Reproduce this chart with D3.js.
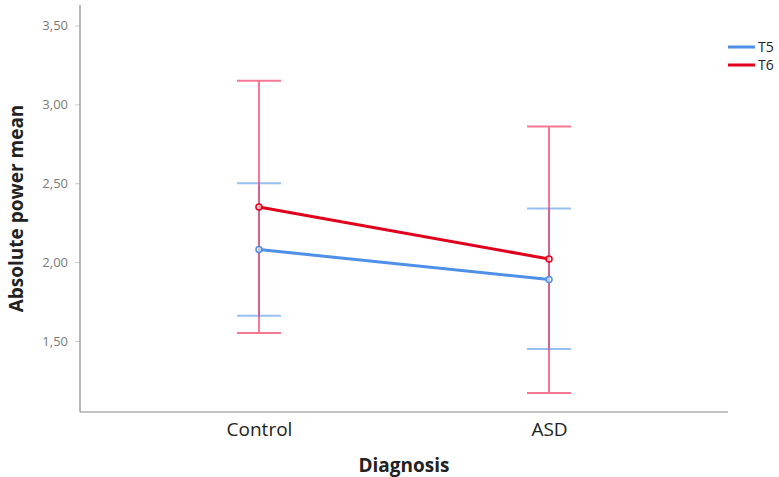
<!DOCTYPE html>
<html><head><meta charset="utf-8">
<script src="https://cdn.jsdelivr.net/npm/d3@7"></script>
<style>
html,body{margin:0;padding:0;background:#fff;}
svg{display:block;font-family:"Open Sans","Liberation Sans",Arial,sans-serif;}
</style></head>
<body>
<svg id="chart" width="779" height="477"></svg>
<script>
const categories = ["Control", "ASD"];
const seriesNames = ["T5", "T6"];
const meansT5 = [2.08, 1.89];
const lowerT5 = [1.66, 1.45];
const upperT5 = [2.50, 2.34];
const meansT6 = [2.35, 2.02];
const lowerT6 = [1.55, 1.17];
const upperT6 = [3.15, 2.86];
const yTicks = [1.5, 2.0, 2.5, 3.0, 3.5];

const series = [
  {name: "T5", means: meansT5, lower: lowerT5, upper: upperT5, color: "#4e90e8", errColor: "#7fb0f0", errOpacity: 0.8},
  {name: "T6", means: meansT6, lower: lowerT6, upper: upperT6, color: "#e0001c", errColor: "#f0305a", errOpacity: 0.65}
];

const svg = d3.select("#chart");
const pLeft = 80, pRight = 728, pTop = 5, pBottom = 412;

const x = d3.scalePoint().domain(categories).range([pLeft, pRight]).padding(0.617);
const y = d3.scaleLinear().domain([1.05, 3.63]).range([pBottom, pTop]);

// Y axis
const yAxis = d3.axisLeft(y).tickValues(yTicks).tickSize(5).tickPadding(7)
  .tickFormat(d => d3.format(".2f")(d).replace(".", ","));
const gy = svg.append("g").attr("transform", `translate(${pLeft},0)`).call(yAxis);
gy.select(".domain").remove();
gy.selectAll(".tick line").attr("stroke", "#cccccc");
gy.selectAll(".tick text").attr("fill", "#7a7a7a").attr("font-size", 13).attr("font-family", "'Open Sans',sans-serif");

// X axis
const xAxis = d3.axisBottom(x).tickSize(0).tickPadding(11);
const gx = svg.append("g").attr("transform", `translate(0,${pBottom})`).call(xAxis);
gx.select(".domain").remove();
gx.selectAll(".tick text").attr("fill", "#222").attr("font-size", 19).attr("font-family", "'Open Sans',sans-serif");

// axis lines
svg.append("line").attr("x1", pLeft).attr("x2", pLeft).attr("y1", pTop).attr("y2", pBottom)
  .attr("stroke", "#888").attr("stroke-width", 1.2);
svg.append("line").attr("x1", pLeft).attr("x2", pRight).attr("y1", pBottom).attr("y2", pBottom)
  .attr("stroke", "#888").attr("stroke-width", 1.2);

// error bars
const capHalf = 22;
series.forEach(s => {
  const g = svg.append("g").attr("opacity", s.errOpacity);
  categories.forEach((c, i) => {
    const cx = x(c);
    g.append("line").attr("x1", cx).attr("x2", cx).attr("y1", y(s.lower[i])).attr("y2", y(s.upper[i]))
      .attr("stroke", s.errColor).attr("stroke-width", 2);
    [s.lower[i], s.upper[i]].forEach(v => {
      g.append("line").attr("x1", cx - capHalf).attr("x2", cx + capHalf).attr("y1", y(v)).attr("y2", y(v))
        .attr("stroke", s.errColor).attr("stroke-width", 2);
    });
  });
});

// lines and markers
series.forEach(s => {
  const line = d3.line().x((d, i) => x(categories[i])).y(d => y(d));
  svg.append("path").datum(s.means).attr("d", line).attr("fill", "none")
    .attr("stroke", s.color).attr("stroke-width", 3);
  svg.selectAll(null).data(s.means).enter().append("circle")
    .attr("cx", (d, i) => x(categories[i])).attr("cy", d => y(d)).attr("r", 3)
    .attr("fill", "#fff").attr("fill-opacity", 0.6).attr("stroke", s.color).attr("stroke-width", 1.5);
});

// axis titles
svg.append("text").attr("transform", `translate(23,${(pTop + pBottom) / 2}) rotate(-90)`)
  .attr("text-anchor", "middle").attr("font-weight", "bold").attr("font-size", 19).attr("fill", "#222")
  .text("Absolute power mean");
svg.append("text").attr("x", (pLeft + pRight) / 2).attr("y", 472)
  .attr("text-anchor", "middle").attr("font-weight", "bold").attr("font-size", 19).attr("fill", "#222")
  .text("Diagnosis");

// legend
const lg = svg.append("g");
series.forEach((s, i) => {
  const ly = 47 + i * 18;
  lg.append("line").attr("x1", 728).attr("x2", 755).attr("y1", ly).attr("y2", ly)
    .attr("stroke", s.color).attr("stroke-width", 3);
  lg.append("text").attr("x", 758).attr("y", ly + 5).attr("font-size", 14).attr("fill", "#222").text(s.name);
});
</script>
</body></html>
